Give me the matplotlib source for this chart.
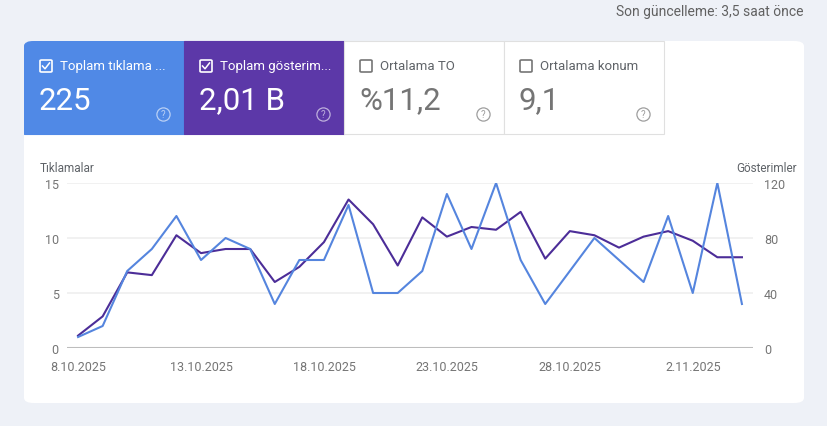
import matplotlib
matplotlib.use("Agg")
from matplotlib import pyplot as plt
from matplotlib.patches import FancyBboxPatch, Rectangle

import numpy as np

plt.rcParams['font.family'] = ['Roboto', 'DejaVu Sans']

# data
dates = ["8.10", "9.10", "10.10", "11.10", "12.10", "13.10", "14.10", "15.10",
         "16.10", "17.10", "18.10", "19.10", "20.10", "21.10", "22.10", "23.10",
         "24.10", "25.10", "26.10", "27.10", "28.10", "29.10", "30.10", "31.10",
         "1.11", "2.11", "3.11", "4.11"]
clicks = [1, 2, 7, 9, 12, 8, 10, 9, 4, 8, 8, 13, 5, 5, 7, 14,
          9, 15, 8, 4, 7, 10, 8, 6, 12, 5, 15, 4]
impressions = [9, 23, 55, 53, 82, 69, 72, 72, 48, 59, 77, 108, 90, 60, 95, 81,
               88, 86, 99, 65, 85, 82, 73, 81, 85, 78, 66, 66]
tick_days = [0, 5, 10, 15, 20, 25]
tick_labels = ["8.10.2025", "13.10.2025", "18.10.2025", "23.10.2025",
               "28.10.2025", "2.11.2025"]
left_ticks = [0, 5, 10, 15]
right_ticks = [0, 40, 80, 120]

tiles = [
    ("Toplam tıklama ...", "225", True, "#5089e6"),
    ("Toplam gösterim...", "2,01 B", True, "#5c38a8"),
    ("Ortalama TO", "%11,2", False, "#ffffff"),
    ("Ortalama konum", "9,1", False, "#ffffff"),
]

W, H = 828, 427
BLUE = "#5585de"
PURPLE = "#4c2d98"
GRAY = "#757575"


def fx(x):
    return x / W


def fy(y):
    return 1 - y / H


fig = plt.figure(figsize=(W / 100, H / 100), dpi=100)
fig.patch.set_facecolor("#eef1f7")

# white card
card = FancyBboxPatch((fx(24), fy(404)), fx(804) - fx(24), fy(42) - fy(404),
                      boxstyle="round,pad=0,rounding_size=0.012",
                      transform=fig.transFigure, facecolor="white",
                      edgecolor="none", zorder=-2)
fig.patches.append(card)

fig.text(fx(804), fy(12), "Son güncelleme: 3,5 saat önce", ha="right",
         va="center", fontsize=10, color="#616161")

# metric tiles
for i, (label, value, checked, color) in enumerate(tiles):
    x0 = 24 + i * 160
    tile = Rectangle((fx(x0), fy(135)), fx(160), fy(42) - fy(135),
                     transform=fig.transFigure, facecolor=color,
                     edgecolor="#e0e0e0" if not checked else color,
                     linewidth=0.8, zorder=-1)
    if i == 0:
        # first tile follows the card's rounded corner
        tile.set_clip_path(card)
    fig.patches.append(tile)
    fg = "white" if checked else GRAY
    # checkbox
    fig.patches.append(FancyBboxPatch((fx(x0 + 16), fy(73)), fx(12), fy(61) - fy(73),
                                      boxstyle="round,pad=0,rounding_size=0.002",
                                      transform=fig.transFigure, facecolor="none",
                                      edgecolor=fg, linewidth=1.2, zorder=2))
    if checked:
        fig.lines.append(plt.Line2D([fx(x0 + 18.5), fx(x0 + 21), fx(x0 + 25.5)],
                                    [fy(67), fy(69.8), fy(64)],
                                    transform=fig.transFigure, color=fg,
                                    linewidth=1.1, zorder=3))
    fig.text(fx(x0 + 36), fy(66.5), label, ha="left", va="center",
             fontsize=9.5, color=fg if checked else "#5f6368")
    fig.text(fx(x0 + 15), fy(101), value, ha="left", va="center",
             fontsize=22.5, color=fg)
    # help icon
    hc = "#ffffff" if checked else "#9e9e9e"
    al = 0.6 if checked else 1
    fig.lines.append(plt.Line2D([fx(x0 + 139)], [fy(115)], marker="o",
                                markersize=9.5, markerfacecolor="none",
                                markeredgecolor=hc, markeredgewidth=0.9,
                                alpha=al, transform=fig.transFigure, zorder=2))
    fig.text(fx(x0 + 139), fy(115.3), "?", ha="center", va="center",
             fontsize=7, color=hc, alpha=al)

# chart
ax = fig.add_axes([fx(67), fy(349), fx(753) - fx(67), fy(184) - fy(349)])
ax2 = ax.twinx()
ax2.set_zorder(5)
ax.set_zorder(6)
days = np.arange(len(dates))

ax.plot(days, clicks, color=BLUE, linewidth=1.5, zorder=3)
ax2.plot(days, impressions, color=PURPLE, linewidth=1.5, zorder=3)

ax.set_xlim(-0.45, len(dates) - 1 + 0.45)
ax.set_ylim(0, 15)
ax2.set_ylim(0, 120)
ax.set_yticks(left_ticks)
ax2.set_yticks(right_ticks)
ax.set_xticks(tick_days)
ax.set_xticklabels(tick_labels)

for a in (ax, ax2):
    for s in a.spines.values():
        s.set_visible(False)
    a.patch.set_visible(False)
    a.tick_params(length=0, labelsize=9, colors=GRAY)

ax.tick_params(axis="y", pad=6)
ax2.tick_params(axis="y", pad=8)
ax.tick_params(axis="x", pad=9)

for v in right_ticks[1:]:
    ax2.axhline(v, color="#efefef", linewidth=1.2, zorder=1)
ax2.axhline(0, color="#bdbdbd", linewidth=1.5, zorder=2)

fig.text(fx(40), fy(168), "Tıklamalar", ha="left", va="center",
         fontsize=8.5, color="#5f6368")
fig.text(fx(797), fy(168), "Gösterimler", ha="right", va="center",
         fontsize=8.5, color="#5f6368")

fig.savefig("out.png", dpi=100, facecolor=fig.get_facecolor())
